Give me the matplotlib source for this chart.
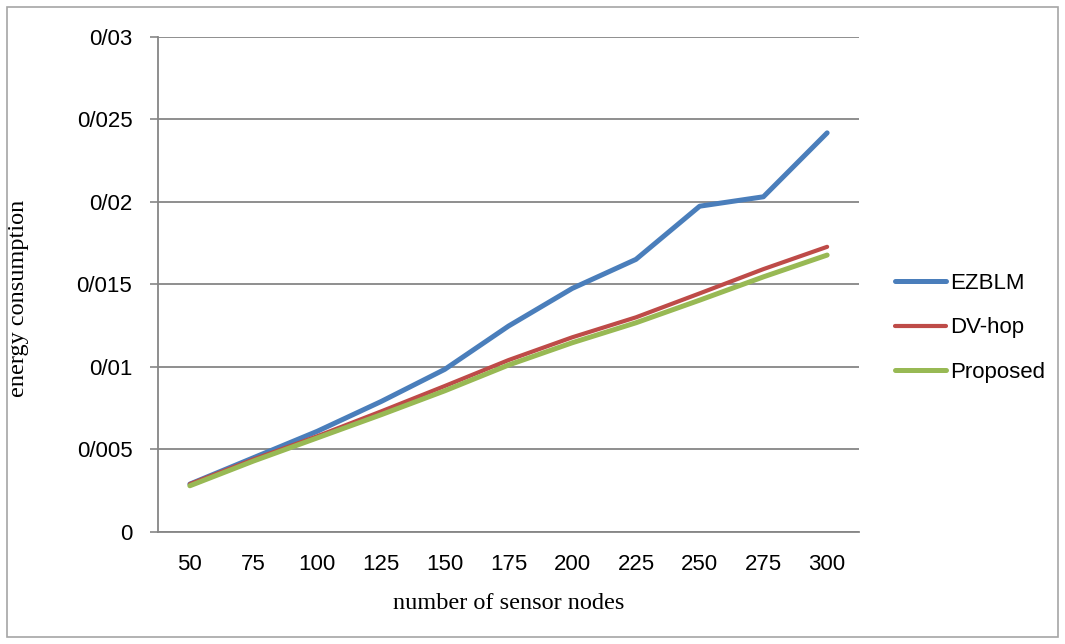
import numpy as np
import matplotlib.pyplot as plt
from matplotlib.patches import Rectangle

nodes = ["50", "75", "100", "125", "150", "175", "200", "225", "250", "275", "300"]
ezblm = [0.0029, 0.0045, 0.0061, 0.0079, 0.00985, 0.01247, 0.01475, 0.01651, 0.01973, 0.0203, 0.02417]
dvhop = [0.0029, 0.0044, 0.0058, 0.0073, 0.00884, 0.01041, 0.01179, 0.0130, 0.01445, 0.01592, 0.01727]
proposed = [0.0028, 0.0043, 0.0057, 0.0071, 0.00855, 0.01011, 0.01146, 0.01267, 0.01404, 0.01545, 0.01677]
yticks = [0, 0.005, 0.01, 0.015, 0.02, 0.025, 0.03]
ylabels = ["0", "0/005", "0/01", "0/015", "0/02", "0/025", "0/03"]

W, H = 1065, 644
fig = plt.figure(figsize=(W / 100, H / 100), dpi=100)
fig.patches.append(Rectangle((7 / W, 7 / H), 1051 / W, 630 / H, transform=fig.transFigure,
                             fill=False, edgecolor="#a6a6a6", lw=1.2))

ax = fig.add_axes([158 / W, 1 - 532 / H, 701 / W, (532 - 36.6) / H])
x = np.arange(len(nodes))
ax.plot(x, ezblm, color="#4a7ebb", lw=3.6, label="EZBLM", solid_capstyle="round")
ax.plot(x, dvhop, color="#be4b48", lw=3.0, label="DV-hop", solid_capstyle="round")
ax.plot(x, proposed, color="#98b954", lw=3.6, label="Proposed", solid_capstyle="round")

ax.set_xlim(-0.5, len(nodes) - 0.5)
ax.set_ylim(0, 0.03)
ax.set_yticks(yticks)
ax.set_yticklabels(ylabels, fontfamily="Liberation Sans", fontsize=16)
ax.set_xticks(x)
ax.set_xticklabels(nodes, fontfamily="Liberation Sans", fontsize=16)
ax.tick_params(axis="y", length=6, color="#868686", width=1.2, pad=12.5)
ax.tick_params(axis="x", length=0, pad=16)
ax.grid(axis="y", color="#868686", lw=1.3)
ax.set_axisbelow(True)
for s in ["top", "right"]:
    ax.spines[s].set_visible(False)
for s in ["left", "bottom"]:
    ax.spines[s].set_color("#868686")
    ax.spines[s].set_linewidth(1.3)

ax.set_ylabel("energy consumption", fontfamily="Liberation Serif", fontsize=17.5)
ax.yaxis.set_label_coords(-0.184, 0.472)
ax.set_xlabel("number of sensor nodes", fontfamily="Liberation Serif", fontsize=17.5, labelpad=13)

leg = ax.legend(loc="center left", bbox_to_anchor=(895 / W, 1 - 328 / H), bbox_transform=fig.transFigure,
                frameon=False, prop={"family": "Liberation Sans", "size": 16},
                handlelength=2.3, handletextpad=0.2, labelspacing=1.05, borderpad=0, borderaxespad=0)

fig.savefig("out.png", dpi=100)
